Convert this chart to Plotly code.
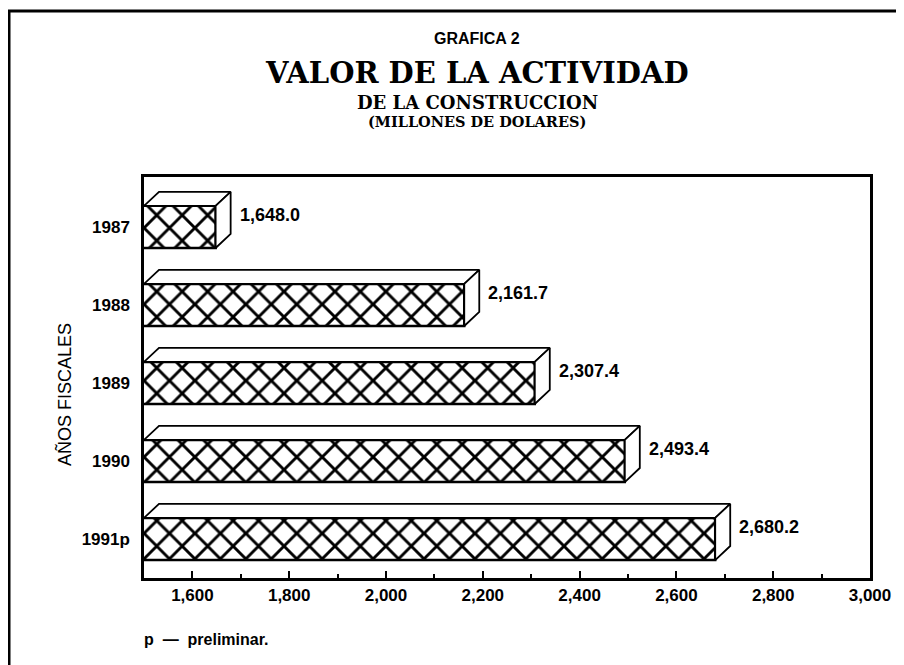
import plotly.graph_objects as go

# ---- data ----
years = ["1987", "1988", "1989", "1990", "1991p"]
values = [1648.0, 2161.7, 2307.4, 2493.4, 2680.2]
value_labels = ["1,648.0", "2,161.7", "2,307.4", "2,493.4", "2,680.2"]
x_tickvals = [1600, 1800, 2000, 2200, 2400, 2600, 2800, 3000]
x_ticktext = ["1,600", "1,800", "2,000", "2,200", "2,400", "2,600", "2,800", "3,000"]

# ---- layout geometry (reference pixel coords; page adds ~8px offset) ----
OFF = 8
W, H = 904 - OFF, 665 - OFF
PL, PR, PT, PB = 144, 870, 177, 578   # plot box in reference pixels
L, T = PL - OFF, PT - OFF
R, B = W - (PR - OFF), H - (PB - OFF)
PW, PH = PR - PL, PB - PT
XMIN, XMAX = 1500, 3000
YTOP, YBOT = -0.64, 4.5

BAR_W = 0.54   # category units
DX = 31        # depth in x data units
DY = 0.18      # depth in category units

def px_x(p):
    return (p - PL) / PW

def px_y(p):
    return 1 - (p - PT) / PH

SANS = "Liberation Sans"
SERIF = "DejaVu Serif"

pos = list(range(len(years)))

fig = go.Figure()
fig.add_trace(go.Bar(
    y=pos, x=values, orientation="h", width=BAR_W,
    marker=dict(color="white",
                pattern=dict(shape="x", size=18, solidity=0.3, fgopacity=1,
                             fgcolor="black", bgcolor="white", fillmode="overlay"),
                line=dict(color="black", width=2.5)),
    showlegend=False, hoverinfo="skip",
))

for yc, v in zip(pos, values):
    top = yc - BAR_W / 2
    bot = yc + BAR_W / 2
    fig.add_trace(go.Scatter(
        x=[XMIN, v, v + DX, XMIN + DX, XMIN],
        y=[top, top, top - DY, top - DY, top],
        mode="lines", fill="toself", fillcolor="white",
        line=dict(color="black", width=1.8), showlegend=False, hoverinfo="skip"))
    fig.add_trace(go.Scatter(
        x=[v, v + DX, v + DX, v, v],
        y=[top, top - DY, bot - DY, bot, top],
        mode="lines", fill="toself", fillcolor="white",
        line=dict(color="black", width=1.8), showlegend=False, hoverinfo="skip"))

annotations = []
for yc, v, lab in zip(pos, values, value_labels):
    annotations.append(dict(
        x=v + DX, y=yc - 0.15, xref="x", yref="y", text=lab, showarrow=False,
        xanchor="left", yanchor="middle", xshift=7,
        font=dict(family=SANS, size=18, color="black", weight="bold")))

CX = px_x(477)
annotations += [
    dict(x=CX, y=px_y(39), xref="paper", yref="paper", text="GRAFICA 2", showarrow=False,
         xanchor="center", yanchor="middle",
         font=dict(family=SANS, size=16, color="black", weight="bold")),
    dict(x=CX, y=px_y(73.5), xref="paper", yref="paper", text="VALOR DE LA ACTIVIDAD", showarrow=False,
         xanchor="center", yanchor="middle",
         font=dict(family=SERIF, size=29, color="black", weight="bold")),
    dict(x=CX, y=px_y(102), xref="paper", yref="paper", text="DE LA CONSTRUCCION", showarrow=False,
         xanchor="center", yanchor="middle",
         font=dict(family=SERIF, size=18, color="black", weight="bold")),
    dict(x=CX, y=px_y(121), xref="paper", yref="paper", text="(MILLONES DE DOLARES)", showarrow=False,
         xanchor="center", yanchor="middle",
         font=dict(family=SERIF, size=14.5, color="black", weight="bold")),
    dict(x=px_x(64), y=px_y(395), xref="paper", yref="paper", text="AÑOS FISCALES", showarrow=False,
         textangle=-90, xanchor="center", yanchor="middle",
         font=dict(family=SANS, size=18, color="black")),
    dict(x=px_x(142), y=px_y(639), xref="paper", yref="paper", text="p  —  preliminar.", showarrow=False,
         xanchor="left", yanchor="middle",
         font=dict(family=SANS, size=16, color="black", weight="bold")),
]

shapes = [
    dict(type="line", xref="paper", yref="paper", x0=px_x(8), x1=px_x(910), y0=px_y(11), y1=px_y(11),
         line=dict(color="black", width=3)),
    dict(type="line", xref="paper", yref="paper", x0=px_x(9), x1=px_x(9), y0=px_y(11), y1=px_y(672),
         line=dict(color="black", width=3)),
]

fig.update_layout(
    width=W, height=H,
    margin=dict(l=L, r=R, t=T, b=B, autoexpand=False),
    paper_bgcolor="white", plot_bgcolor="white",
    annotations=annotations, shapes=shapes,
    xaxis=dict(range=[XMIN, XMAX], tickvals=x_tickvals, ticktext=x_ticktext,
               showgrid=False, zeroline=False, showline=True, linecolor="black", linewidth=2.5,
               mirror=True, ticks="inside", ticklen=7, tickwidth=2, tickcolor="black",
               minor=dict(ticks="inside", ticklen=4, tickwidth=1.5, dtick=100, tickcolor="black",
                          showgrid=False),
               tickfont=dict(family=SANS, size=17, color="black", weight="bold")),
    yaxis=dict(range=[YBOT, YTOP], tickvals=pos, ticktext=years,
               showgrid=False, zeroline=False, showline=True, linecolor="black", linewidth=2.5,
               mirror=True, ticks="", ticklabelstandoff=8,
               tickfont=dict(family=SANS, size=17, color="black", weight="bold")),
)

fig.write_html("out.html")
